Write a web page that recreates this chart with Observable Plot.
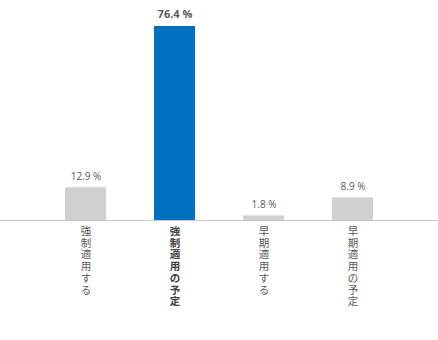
<!DOCTYPE html>
<html><head><meta charset="utf-8">
<script src="https://cdn.jsdelivr.net/npm/d3@7"></script>
<script src="https://cdn.jsdelivr.net/npm/@observablehq/plot@0.6"></script>
<style>
html,body{margin:0;padding:0;background:#fff;}
#chart svg{display:block;}
</style>
</head><body><div id="chart"></div>
<script>
const categories = ["強制適用する", "強制適用の予定", "早期適用する", "早期適用の予定"];
const values = [12.9, 76.4, 1.8, 8.9];
const highlight = [false, true, false, false];

const data = categories.map((c, i) => ({
  cat: c, value: values[i], hi: highlight[i],
  label: values[i].toFixed(1) + " %",
  vlabel: c.split("").join("\n")
}));

const chart = Plot.plot({
  width: 438,
  height: 340,
  marginLeft: 0,
  marginRight: 0,
  marginTop: 26,
  marginBottom: 120,
  x: {domain: categories, range: [39.5, 398.5], paddingInner: 0.544, paddingOuter: 0.272, align: 0.5, axis: null},
  y: {domain: [0, 76.4], axis: null},
  style: {background: "#fff"},
  marks: [
    Plot.barY(data, {x: "cat", y: "value", fill: d => d.hi ? "#0070c0" : "#d0d0d0"}),
    Plot.ruleY([0], {stroke: "#c8c8c8", strokeWidth: 1}),
    Plot.text(data.filter(d => !d.hi), {x: "cat", y: "value", text: "label", dy: -11,
      fill: "#595959", fontSize: 10, fontFamily: "Open Sans, Noto Sans, sans-serif"}),
    Plot.text(data.filter(d => d.hi), {x: "cat", y: "value", text: "label", dy: -12,
      fill: "#595959", fontSize: 11, fontWeight: "bold", fontFamily: "Open Sans, Noto Sans, sans-serif"}),
    Plot.text(data.filter(d => !d.hi), {x: "cat", y: 0, text: "vlabel", dy: 6, lineAnchor: "top",
      lineHeight: 1.12, fill: "#595959", fontSize: 10.5, fontFamily: "Noto Sans CJK JP"}),
    Plot.text(data.filter(d => d.hi), {x: "cat", y: 0, text: "vlabel", dy: 6, lineAnchor: "top",
      lineHeight: 1.12, fill: "#404040", fontSize: 10.5, fontWeight: "bold", fontFamily: "Noto Sans CJK JP"})
  ]
});
document.getElementById("chart").appendChild(chart);
</script>
</body></html>
